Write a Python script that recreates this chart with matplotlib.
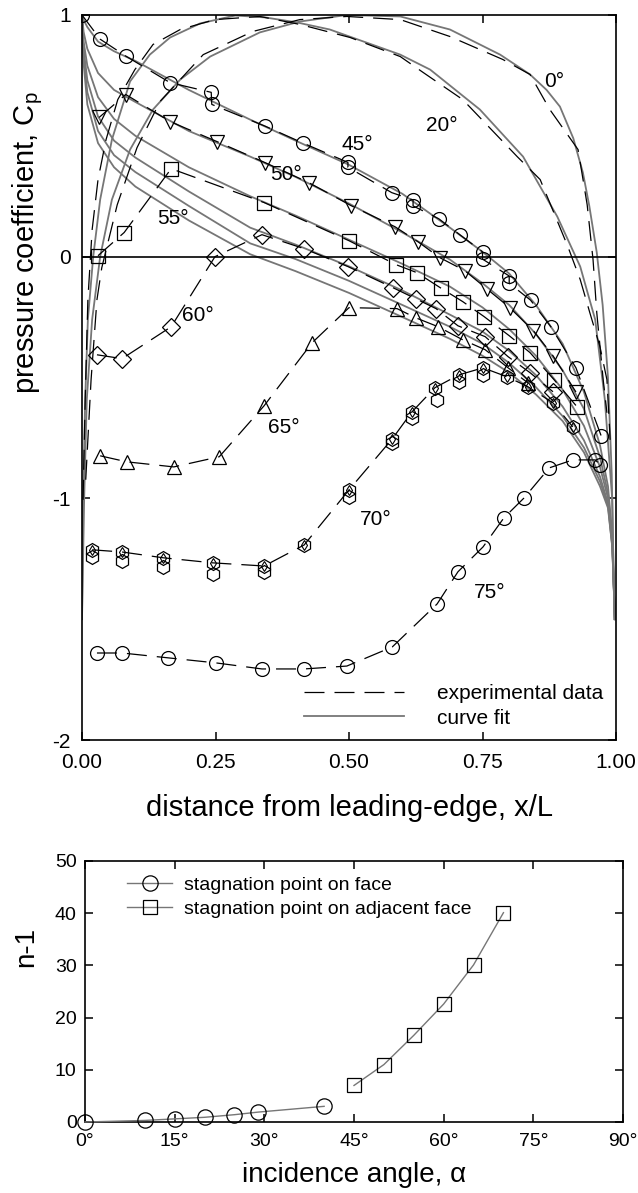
import matplotlib
matplotlib.use("Agg")
import matplotlib.pyplot as plt
from matplotlib.lines import Line2D
from matplotlib.ticker import FixedLocator, FixedFormatter

plt.rcParams["font.family"] = ["Liberation Sans", "DejaVu Sans"]
plt.rcParams["mathtext.fontset"] = "custom"
plt.rcParams["mathtext.rm"] = "Liberation Sans"
plt.rcParams["mathtext.it"] = "Liberation Sans"

# ---- top panel: pressure coefficient along the face ----
# curve fits (gray), shared x stations for the 45-70 deg family
fit_x = [0.0, 0.003, 0.01, 0.03, 0.06, 0.1, 0.2, 0.315, 0.4, 0.5, 0.6, 0.689,
         0.75, 0.8, 0.85, 0.9, 0.94, 0.97, 0.985, 0.993, 0.998]
fit_45 = [1.0, 0.98, 0.95, 0.89, 0.85, 0.81, 0.69, 0.567, 0.48, 0.38, 0.26,
          0.12, 0.02, -0.07, -0.2, -0.36, -0.56, -0.78, -0.95, -1.15, -1.5]
fit_50 = [1.0, 0.93, 0.86, 0.76, 0.69, 0.64, 0.52, 0.414, 0.33, 0.22, 0.10,
          -0.012, -0.11, -0.2, -0.32, -0.47, -0.63, -0.83, -0.98, -1.17, -1.5]
fit_55 = [1.0, 0.89, 0.79, 0.66, 0.57, 0.50, 0.37, 0.25, 0.17, 0.07, -0.03,
          -0.124, -0.21, -0.3, -0.41, -0.55, -0.7, -0.87, -1.0, -1.18, -1.5]
fit_60 = [1.0, 0.86, 0.73, 0.58, 0.48, 0.41, 0.27, 0.12, 0.05, -0.04, -0.14,
          -0.24, -0.31, -0.39, -0.49, -0.62, -0.76, -0.91, -1.02, -1.19, -1.5]
fit_65 = [1.0, 0.83, 0.68, 0.52, 0.42, 0.35, 0.21, 0.055, -0.01, -0.1, -0.2,
          -0.29, -0.36, -0.44, -0.54, -0.66, -0.79, -0.93, -1.03, -1.2, -1.5]
fit_70 = [1.0, 0.8, 0.63, 0.47, 0.37, 0.29, 0.15, 0.01, -0.06, -0.15, -0.25,
          -0.34, -0.41, -0.48, -0.57, -0.68, -0.81, -0.95, -1.04, -1.2, -1.5]

fit0_x = [0.0, 0.004, 0.009, 0.019, 0.034, 0.056, 0.09, 0.133, 0.184, 0.24,
          0.333, 0.408, 0.496, 0.596, 0.689, 0.783, 0.839, 0.87, 0.895, 0.92,
          0.938, 0.95, 0.964, 0.975, 0.985, 0.992, 0.997]
fit0_y = [-1.5, -1.006, -0.59, -0.26, 0.0, 0.236, 0.443, 0.609, 0.733, 0.828,
          0.928, 0.973, 1.0, 0.994, 0.94, 0.836, 0.754, 0.69, 0.621, 0.49,
          0.348, 0.21, 0.017, -0.2, -0.5, -0.9, -1.5]
fit20_x = [0.0, 0.002, 0.006, 0.011, 0.021, 0.034, 0.056, 0.09, 0.127, 0.165,
           0.221, 0.287, 0.343, 0.403, 0.464, 0.596, 0.652, 0.745, 0.826,
           0.89, 0.933, 0.961, 0.979, 0.993, 0.997]
fit20_y = [-1.5, -1.006, -0.59, -0.26, 0.0, 0.236, 0.484, 0.725, 0.836, 0.907,
           0.965, 0.998, 0.99, 0.969, 0.94, 0.836, 0.774, 0.609, 0.414,
           0.166, -0.041, -0.26, -0.59, -1.006, -1.5]

# experimental data (dashed, black)
exp0_x = [0.007, 0.017, 0.028, 0.037, 0.066, 0.103, 0.146, 0.227, 0.32, 0.408,
          0.496, 0.596, 0.689, 0.788, 0.839, 0.876, 0.929, 0.946, 0.957,
          0.964, 0.976, 0.983]
exp0_y = [-0.923, -0.509, -0.178, -0.046, 0.215, 0.451, 0.642, 0.836, 0.932,
          0.981, 0.994, 0.981, 0.911, 0.816, 0.754, 0.609, 0.443, 0.215,
          -0.012, -0.232, -0.509, -0.646]
exp20_x = [0.002, 0.006, 0.011, 0.019, 0.03, 0.045, 0.067, 0.099, 0.133, 0.184,
           0.249, 0.333, 0.408, 0.502, 0.596, 0.639, 0.713, 0.815, 0.858,
           0.91, 0.933, 0.951, 0.97, 0.983, 0.989]
exp20_y = [-1.006, -0.59, -0.178, 0.112, 0.319, 0.484, 0.65, 0.774, 0.878,
           0.94, 0.981, 0.994, 0.961, 0.907, 0.828, 0.762, 0.65, 0.414, 0.319,
           0.041, -0.095, -0.232, -0.373, -0.509, -0.758]

exp45_x = [0.0, 0.034, 0.082, 0.165, 0.242, 0.243, 0.343, 0.414, 0.498, 0.498,
           0.58, 0.62, 0.62, 0.668, 0.708, 0.75, 0.75, 0.80, 0.80, 0.84,
           0.878, 0.925, 0.972]
exp45_y = [1.0, 0.90, 0.83, 0.72, 0.68, 0.63, 0.54, 0.47, 0.39, 0.37, 0.265,
           0.235, 0.21, 0.157, 0.09, 0.02, -0.01, -0.08, -0.11, -0.18,
           -0.29, -0.46, -0.74]
exp50_x = [0.032, 0.082, 0.165, 0.253, 0.343, 0.425, 0.504, 0.586, 0.629,
           0.670, 0.717, 0.758, 0.801, 0.845, 0.882, 0.925]
exp50_y = [0.576, 0.671, 0.559, 0.476, 0.389, 0.306, 0.211, 0.124, 0.062,
           -0.004, -0.058, -0.133, -0.211, -0.306, -0.41, -0.56]
exp55_x = [0.03, 0.079, 0.167, 0.341, 0.5, 0.588, 0.627, 0.672, 0.713, 0.753,
           0.80, 0.839, 0.884, 0.927]
exp55_y = [0.004, 0.10, 0.364, 0.224, 0.066, -0.033, -0.066, -0.13, -0.186,
           -0.248, -0.327, -0.397, -0.509, -0.621]
exp60_x = [0.028, 0.075, 0.167, 0.249, 0.337, 0.416, 0.498, 0.582, 0.625,
           0.663, 0.704, 0.755, 0.798, 0.839, 0.882]
exp60_y = [-0.406, -0.422, -0.29, 0.0, 0.091, 0.033, -0.041, -0.128, -0.174,
           -0.215, -0.286, -0.331, -0.414, -0.48, -0.559]
exp65_x = [0.034, 0.084, 0.172, 0.257, 0.341, 0.431, 0.5, 0.59, 0.625, 0.667,
           0.713, 0.755, 0.798, 0.835]
exp65_y = [-0.824, -0.849, -0.87, -0.828, -0.617, -0.356, -0.211, -0.215,
           -0.253, -0.29, -0.344, -0.385, -0.46, -0.522]
exp70a_x = [0.019, 0.075, 0.152, 0.245, 0.341, 0.416, 0.5, 0.581, 0.618,
            0.661, 0.706, 0.751, 0.796, 0.835, 0.882, 0.919]
exp70a_y = [-1.213, -1.222, -1.246, -1.267, -1.28, -1.193, -0.965, -0.754,
            -0.642, -0.542, -0.489, -0.46, -0.497, -0.538, -0.605, -0.704]
exp70b_x = [0.019, 0.075, 0.152, 0.245, 0.341, 0.5, 0.581, 0.618, 0.665,
            0.706, 0.751]
exp70b_y = [-1.242, -1.259, -1.284, -1.313, -1.304, -0.994, -0.77, -0.667,
            -0.592, -0.518, -0.489]
exp75_x = [0.028, 0.075, 0.161, 0.251, 0.337, 0.416, 0.496, 0.581, 0.665,
           0.704, 0.751, 0.79, 0.828, 0.875, 0.919, 0.961, 0.97]
exp75_y = [-1.64, -1.64, -1.66, -1.681, -1.706, -1.706, -1.694, -1.615,
           -1.437, -1.304, -1.201, -1.081, -0.998, -0.874, -0.841, -0.841,
           -0.86]

angle_labels = ["0°", "20°", "45°", "50°", "55°", "60°", "65°", "70°", "75°"]
label_x = [0.885, 0.674, 0.515, 0.382, 0.17, 0.217, 0.377, 0.551, 0.764]
label_y = [0.725, 0.542, 0.464, 0.34, 0.16, -0.244, -0.708, -1.089, -1.391]

# ---- bottom panel: exponent vs incidence angle ----
face_angle = [0, 10, 15, 20, 25, 29, 40]
face_n = [0.0, 0.3, 0.6, 0.9, 1.4, 1.9, 3.0]
adj_angle = [45, 50, 55, 60, 65, 70]
adj_n = [7.0, 11.0, 16.6, 22.6, 30.1, 40.1]

GRAY = "#767676"
DASH = (16, 8)

fig = plt.figure(figsize=(6.38, 11.93), dpi=100)
ax = fig.add_axes([82 / 638, 1 - 740 / 1193, 534 / 638, 725 / 1193])

for fy in [fit_45, fit_50, fit_55, fit_60, fit_65, fit_70]:
    ax.plot(fit_x, fy, color=GRAY, lw=1.3, zorder=2)
ax.plot(fit0_x, fit0_y, color=GRAY, lw=1.3, zorder=2)
ax.plot(fit20_x, fit20_y, color=GRAY, lw=1.3, zorder=2)

dash_kw = dict(color="black", lw=0.9, dashes=DASH, zorder=3)
mk = dict(mfc="none", mec="black", mew=0.9, ms=10)
ax.plot(exp0_x, exp0_y, **dash_kw)
ax.plot(exp20_x, exp20_y, **dash_kw)
ax.plot(exp45_x, exp45_y, marker="o", **dash_kw, **mk)
ax.plot(exp50_x, exp50_y, marker="v", **dash_kw, **mk)
ax.plot(exp55_x, exp55_y, marker="s", **dash_kw, **mk)
ax.plot(exp60_x, exp60_y, marker="D", **dash_kw, mfc="none", mec="black",
        mew=0.9, ms=9)
ax.plot(exp65_x, exp65_y, marker="^", **dash_kw, **mk)
ax.plot(exp70a_x, exp70a_y, marker="h", **dash_kw, **mk)
ax.plot(exp70b_x, exp70b_y, marker="h", ls="none", zorder=4, **mk)
ax.plot(exp70a_x, exp70a_y, marker="d", ls="none", mfc="none", mec="black",
        mew=0.8, ms=5, zorder=4)
ax.plot(exp75_x, exp75_y, marker="o", **dash_kw, **mk)

ax.axhline(0, color="black", lw=1.2, zorder=2.5)

for t, lx, ly in zip(angle_labels, label_x, label_y):
    ax.text(lx, ly, t, fontsize=15, ha="center", va="center", zorder=5)

ax.set_xlim(0, 1)
ax.set_ylim(-2, 1)
ax.xaxis.set_major_locator(FixedLocator([0, 0.25, 0.5, 0.75, 1.0]))
ax.xaxis.set_major_formatter(FixedFormatter(["0.00", "0.25", "0.50", "0.75", "1.00"]))
ax.yaxis.set_major_locator(FixedLocator([-2, -1, 0, 1]))
ax.yaxis.set_major_formatter(FixedFormatter(["-2", "-1", "0", "1"]))
ax.tick_params(direction="in", length=6, width=1.1, labelsize=15,
               top=True, right=True)
ax.tick_params(axis="x", pad=9)
ax.tick_params(axis="y", pad=8)
for sp in ax.spines.values():
    sp.set_linewidth(1.2)
ax.set_xlabel("distance from leading-edge, x/L", fontsize=21)
ax.set_ylabel("pressure coefficient, C$_\\mathregular{p}$", fontsize=21)
ax.xaxis.set_label_coords(0.5, -0.074)
ax.yaxis.set_label_coords(-0.07, 0.686)

handles = [Line2D([], [], color="black", lw=0.9, dashes=DASH),
           Line2D([], [], color=GRAY, lw=1.3)]
ax.legend(handles, ["experimental data", "curve fit"], loc="lower right",
          frameon=False, fontsize=15, handlelength=4.8, handletextpad=1.6,
          labelspacing=0.25, borderaxespad=0.4, borderpad=0.2)

# ---- bottom panel ----
ax2 = fig.add_axes([85 / 638, 1 - 1122 / 1193, 538 / 638, 261 / 1193])
ax2.plot(face_angle, face_n, color=GRAY, lw=1.0, marker="o", ms=11,
         mfc="none", mec="black", mew=0.9, clip_on=False, zorder=3,
         label="stagnation point on face")
ax2.plot(adj_angle, adj_n, color=GRAY, lw=1.0, marker="s", ms=10.5,
         mfc="none", mec="black", mew=0.9, clip_on=False, zorder=3,
         label="stagnation point on adjacent face")
ax2.set_xlim(0, 90)
ax2.set_ylim(0, 50)
ax2.xaxis.set_major_locator(FixedLocator([0, 15, 30, 45, 60, 75, 90]))
ax2.xaxis.set_major_formatter(FixedFormatter(["0°", "15°", "30°", "45°", "60°", "75°", "90°"]))
ax2.yaxis.set_major_locator(FixedLocator([0, 10, 20, 30, 40, 50]))
ax2.tick_params(direction="in", length=6, width=1.1, labelsize=14,
                top=True, right=True)
ax2.tick_params(axis="x", pad=8)
ax2.tick_params(axis="y", pad=6)
for sp in ax2.spines.values():
    sp.set_linewidth(1.2)
ax2.set_xlabel("incidence angle, α", fontsize=20)
ax2.set_ylabel("n-1", fontsize=20)
ax2.xaxis.set_label_coords(0.5, -0.155)
ax2.yaxis.set_label_coords(-0.085, 0.67)
ax2.legend(loc="upper left", frameon=False, fontsize=14, handlelength=2.3,
           handletextpad=0.6, labelspacing=0.3, borderaxespad=0.4,
           bbox_to_anchor=(0.05, 1.0))

fig.savefig("out.png", dpi=100)
